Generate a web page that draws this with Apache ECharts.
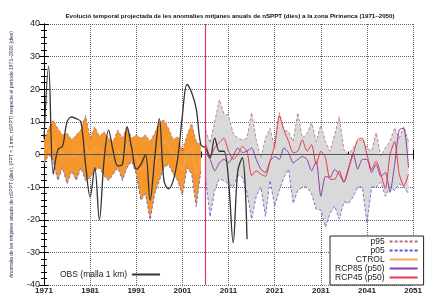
<!DOCTYPE html>
<html>
<head>
<meta charset="utf-8">
<script src="https://cdn.jsdelivr.net/npm/echarts@6/dist/echarts.min.js"></script>
<style>
html, body { margin: 0; padding: 0; background: #fff; }
#chart { width: 425px; height: 295px; }
</style>
</head>
<body>
<div id="chart"></div>
<script>
// anys: eix x en anys des de 1971
const firstYear = 1971
function range(a, b) { const r = []; for (let y = a; y <= b; y++) r.push(y); return r }
const ctrlYears = range(1971, 2005)
const rcpYears = range(2006, 2050)
const obsYears = range(1971, 2015)

// CTROL (1971-2005)
const ctrlP95 = [4, 8, 10.5, 8, 6, 6.5, 4.5, 6, 7.5, 12, 5, 8.5, 5.5, 7, 5, 4, 7.5, 5, 8.5, 5,
  6, 5, 6, 4, 6.5, 10, 10.5, 8, 4.5, 5.5, 1, 6, 9.5, 4, 3]
const ctrlP05 = [-3, 0, -2, -8, -4, -9, -5, -8, -4, -8, -7, -5, -4, -6.5, -8, -6, -4, -8, -4, -2,
  -6, -14, -12, -20, -12, -8, -4, -3, -6, -8, -12.5, -4, -6, -16, -5]
const ctrlP50 = [1, 3, 4, 0, 1, -1, 0, -1, 2, 3, -1, 2, 1, 0, -2, -1, 2, -2, 3, 1,
  0, -5, -3, -8, -3, 1, 4, 3, 0, -2, -5, 1, 2, -6, -1]

// escenaris (2006-2050)
const rcpP95 = [7.5, 3.5, 10, 16.8, 12.5, 12, 6.5, 5, 4.5, 5, 12.8, 4.5, -1, 5, 8, 2, 12.8, 7.5, 7, 4,
  12.8, 5, 6.5, 9.7, 4, 9, 4, 1, 6, 11.6, 1.5, 0, 2, 4, 4.6, 2, 1, 6.7, -0.5, 2,
  4, 8.2, 5, 8.5, 4]
const rcpP05 = [-7, -19, -11, -7.5, -8, -9, -10, -6.5, -7, -11.5, -19.8, -12.8, -10, -19, -8, -15.8, -11, -7, -4.5, -15,
  -11, -10, -10, -12, -16.8, -17, -22.3, -18, -15.8, -19.8, -14.5, -15, -13, -10, -10, -21, -10, -10, -8.5, -12.8,
  -10, -11, -9, -10, -12]
const rcp45 = [3.5, -0.5, 2, 3.7, 5, 1, -1.5, 0, 2.5, 1, -6.5, -5, -6, -6.7, -2, 3, 12, 7.5, 4, 0.5,
  1, 4.5, 1, 3, -3, 1, -1, -7.6, -7.6, -5, -8.5, -4, 0, 4.6, 5, 0, -4.6, -2, -6, -10.5,
  0, 4, -6, -9.7, -6]
const rcp85 = [0.5, -1.5, -5, -2.6, -1.5, -2.5, -0.5, 2, 0.6, 1, 2, -1.5, -4.5, -5.5, -2, -0.6, -1.5, 2, 0.6, -2.6,
  -1.5, -0.6, -1.5, -5, -2, -12.8, -6.7, -7, -4.6, -6, -8.5, -4.6, 0.5, -4.5, -1.5, -1.5, -5.5, -3, -6.7, -5.5,
  -11.6, -3, 7.6, 8, -4]

// observacions (1971-2015)
const obs = [5, 27, -6, 1.5, 2.5, 10, 11.5, 11, 10, -3, -13, -4, -20, -2, 7.5, 1, -3.5, -3, 8.5, 2,
  -4.5, -3, 0, -14, -1, 11, -8, -10.5, -8, -1, 12, 21.5, 19, 14, 3, 2, -1, 5, 1, 1,
  -8, -27, -5, -1, -26]

const startRcp = 2006
const font = 'Liberation Sans, Arial, Helvetica, sans-serif'

function pts(years, vals) { return years.map((y, i) => [y - firstYear, vals[i]]) }

function band(years, lo, hi, color) {
  return {
    type: 'custom', silent: true, z: 1, clip: true,
    data: years.map((y, i) => [y - firstYear, lo[i], hi[i]]),
    encode: { x: 0, y: [1, 2] },
    renderItem: function (params, api) {
      if (params.dataIndex !== 0) return null
      const p = []
      years.forEach((y, i) => p.push(api.coord([y - firstYear, hi[i]])))
      for (let i = years.length - 1; i >= 0; i--) p.push(api.coord([years[i] - firstYear, lo[i]]))
      return { type: 'polygon', shape: { points: p }, style: { fill: color } }
    }
  }
}

function line(name, years, vals, color, extra) {
  return Object.assign({
    type: 'line', name: name, data: pts(years, vals), symbol: 'none', silent: true, z: 3,
    lineStyle: { color: color, width: 1 }, itemStyle: { color: color }
  }, extra || {})
}

const colP95 = '#b46a78'
const colP05 = '#5656d6'
const tickAxis = {
  axisLine: { show: true, lineStyle: { color: '#000', width: 1 } },
  axisTick: { show: true, inside: true, length: 5, lineStyle: { color: '#000' } },
  minorTick: { show: true, splitNumber: 5, length: 3, lineStyle: { color: '#000' } }
}

const chart = echarts.init(document.getElementById('chart'))
chart.setOption({
  animation: false,
  backgroundColor: '#fff',
  title: {
    text: 'Evolució temporal projectada de les anomalies mitjanes anuals de nSPPT (dies) a la zona Pirinenca (1971\u20132050)',
    left: 225, top: 8, textAlign: 'center',
    textStyle: { fontSize: 6.2, fontWeight: 'bold', color: '#111', fontFamily: font }
  },
  grid: { left: 44, right: 1, top: 24, bottom: 8, show: false },
  xAxis: [
    Object.assign({
      type: 'value', min: 0, max: 80, interval: 10, position: 'bottom',
      axisLabel: {
        formatter: v => String(v + firstYear), fontSize: 8, fontWeight: 'bold', color: '#222', margin: 2,
        fontFamily: font, alignMinLabel: 'center', alignMaxLabel: 'center'
      },
      splitLine: { show: true, lineStyle: { type: 'dotted', color: '#666', width: 1 } }
    }, tickAxis),
    Object.assign({
      type: 'value', min: 0, max: 80, interval: 10, position: 'top',
      axisLabel: { show: false }, splitLine: { show: false }
    }, tickAxis)
  ],
  yAxis: [
    Object.assign({
      type: 'value', min: -40, max: 40, interval: 10, position: 'left',
      name: 'Anomalia de les mitjanes anuals de nSPPT (dies), (PPT < 1 mm, nSPPT) respecte el període 1971\u20132000 (dies)',
      nameLocation: 'middle', nameGap: 30, nameRotate: 90,
      nameTextStyle: { fontSize: 5, color: '#1a2a4a', fontFamily: font },
      axisLabel: { fontSize: 9, color: '#222', margin: 4, fontFamily: font },
      splitLine: { show: true, lineStyle: { type: 'dotted', color: '#666', width: 1 } }
    }, tickAxis),
    Object.assign({
      type: 'value', min: -40, max: 40, interval: 10, position: 'right',
      axisLabel: { show: false }, splitLine: { show: false }
    }, tickAxis)
  ],
  legend: [
    {
      data: ['p95', 'p05', 'CTROL', 'RCP85 (p50)', 'RCP45 (p50)'],
      orient: 'vertical', left: 330, top: 236, align: 'right',
      itemWidth: 28, itemHeight: 7, itemGap: 0,
      itemStyle: { opacity: 0 },
      backgroundColor: '#fff', borderColor: '#222', borderWidth: 1, borderRadius: 0,
      padding: [1, 5, 3, 5],
      textStyle: { fontSize: 8.5, lineHeight: 9, color: '#222', fontFamily: font }
    },
    {
      data: ['OBS (malla 1 km)'],
      orient: 'vertical', left: 60, top: 270, align: 'right',
      itemWidth: 28, itemHeight: 7, itemGap: 0, padding: 0,
      itemStyle: { opacity: 0 },
      textStyle: { fontSize: 8.5, color: '#222', fontFamily: font }
    }
  ],
  series: [
    band(ctrlYears, ctrlP05, ctrlP95, '#f5972b'),
    band(rcpYears, rcpP05, rcpP95, '#d9d9d9'),
    line('p95', ctrlYears, ctrlP95, colP95, { z: 2, lineStyle: { color: colP95, width: 0.8, type: [3, 2] } }),
    line('p95', rcpYears, rcpP95, colP95, { z: 2, lineStyle: { color: colP95, width: 0.8, type: [3, 2] } }),
    line('p05', ctrlYears, ctrlP05, colP05, { z: 2, lineStyle: { color: colP05, width: 0.8, type: [3, 2] } }),
    line('p05', rcpYears, rcpP05, colP05, { z: 2, lineStyle: { color: colP05, width: 0.8, type: [3, 2] } }),
    line('CTROL', ctrlYears, ctrlP50, '#f7a85a', { lineStyle: { color: '#f7a85a', width: 1 } }),
    line('RCP85 (p50)', rcpYears, rcp85, '#8a3fa5', { smooth: 0.2 }),
    line('RCP45 (p50)', rcpYears, rcp45, '#e8394a', {
      smooth: 0.2,
      markLine: {
        silent: true, symbol: 'none', label: { show: false }, animation: false,
        data: [
          { yAxis: 0, lineStyle: { color: '#555', width: 1, type: 'solid' } },
          { xAxis: startRcp - firstYear, lineStyle: { color: '#e0356a', width: 1.2, type: 'solid' } }
        ]
      }
    }),
    line('OBS (malla 1 km)', obsYears, obs, '#333', { z: 4, smooth: 0.35, lineStyle: { color: '#333', width: 1.3 } })
  ]
})
</script>
</body>
</html>
